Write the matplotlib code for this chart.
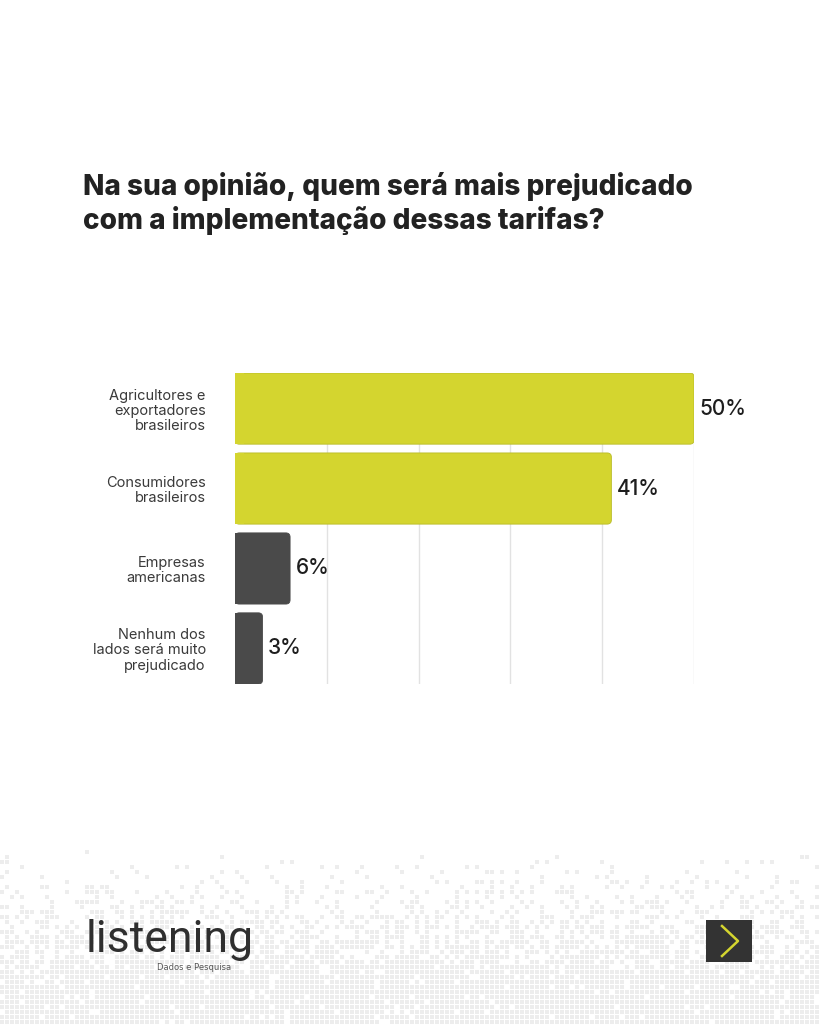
import numpy as np
import matplotlib.pyplot as plt
from matplotlib.patches import FancyBboxPatch, Rectangle
from matplotlib.lines import Line2D

# Survey data
categories = ['Agricultores e\nexportadores\nbrasileiros',
              'Consumidores\nbrasileiros',
              'Empresas\namericanas',
              'Nenhum dos\nlados será muito\nprejudicado']
values = [50, 41, 6, 3]
value_labels = ['50%', '41%', '6%', '3%']
bar_colors = ['#d4d52f', '#d4d52f', '#4a4a4a', '#4a4a4a']
title = 'Na sua opinião, quem será mais prejudicado\ncom a implementação dessas tarifas?'

W, H = 819, 1024
fig = plt.figure(figsize=(W / 100, H / 100), dpi=100)
fig.patch.set_facecolor('white')

# decorative pixel mosaic at the bottom
bg = fig.add_axes([0, 0, 1, 1], zorder=-5)
img = np.ones((H, W, 3))
cell = 5
for cy in range(840, H, cell):
    dens = min(1.0, max(0.0, (cy - 845) / 130.0)) ** 1.3 * 0.92
    for cx in range(0, W, cell):
        h = ((cx // cell) * 73856093 ^ (cy // cell) * 19349663) % 1000 / 1000.0
        if h < dens:
            img[cy:cy + cell - 1, cx:cx + cell - 1] = 0.93
bg.imshow(img, extent=[0, W, H, 0], interpolation='nearest')
bg.set_xlim(0, W)
bg.set_ylim(H, 0)
bg.axis('off')

bar_h = 0.89
n = len(categories)
span = n - 1 + bar_h
ax = fig.add_axes([235 / W, 1 - 684 / H, 459 / W, 311 / H])
ax.set_facecolor('none')
y = np.arange(n)
bars = ax.barh(y, values, height=bar_h, color=bar_colors, zorder=2)
ax.set_xlim(0, 50)
ax.set_ylim(n - 1 + bar_h / 2, -bar_h / 2)

# rounded right ends
aspect = (459 / 50) / (311 / span)
for b, c in zip(bars, bar_colors):
    b.set_visible(False)
    x0, y0, w, h = b.get_x(), b.get_y(), b.get_width(), b.get_height()
    r = 0.45
    ec = '#b9bb28' if c != '#4a4a4a' else c
    ax.add_patch(FancyBboxPatch((x0, y0), w, h,
                                boxstyle=f'round,pad=0,rounding_size={r}',
                                mutation_aspect=aspect,
                                fc=c, ec=ec, lw=0.6, zorder=2))
    ax.add_patch(Rectangle((x0, y0), min(w, 1.0), h, fc=c, ec='none', zorder=2.1))

for yi, v, lab in zip(y, values, value_labels):
    ax.text(v + 0.6, yi, lab, va='center', ha='left', fontsize=15,
            color='#1e1e1e', fontweight='medium', family='Inter')

ax.set_xticks([10, 20, 30, 40, 50])
ax.grid(axis='x', color='#e2e2e2', lw=1, zorder=0)
ax.tick_params(length=0, labelbottom=False)
ax.set_yticks(y)
ax.set_yticklabels(categories, fontsize=10.5, color='#3a3a3a', family='Inter',
                   linespacing=1.1)
ax.tick_params(axis='y', pad=21)
for s in ax.spines.values():
    s.set_visible(False)

# title
fig.text(83 / W, 1 - 172 / H, title, ha='left', va='top', fontsize=20.1,
         fontweight='heavy', color='#222222', family='Inter', linespacing=1.22)

# logo
fig.text(86 / W, 1 - 952 / H, 'listening', ha='left', va='baseline',
         fontsize=32, color='#2f2f2f', family='Roboto')
fig.text(157 / W, 1 - 970 / H, 'Dados e Pesquisa', ha='left', va='baseline',
         fontsize=6, color='#555555', family='DejaVu Sans')

# next button
fig.patches.append(Rectangle((706 / W, 1 - 962 / H), 46 / W, 42 / H,
                             transform=fig.transFigure, fc='#333333', ec='none'))
fig.lines.append(Line2D([722 / W, 738 / W, 722 / W],
                        [1 - 926 / H, 1 - 941 / H, 1 - 956 / H],
                        transform=fig.transFigure, color='#d4d52f', lw=1.8))

fig.savefig('out.png', dpi=100)
